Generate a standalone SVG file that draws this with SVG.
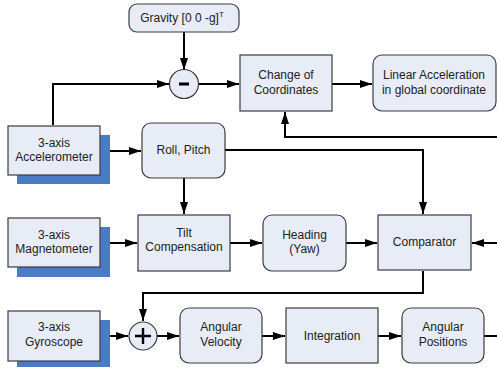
<svg xmlns="http://www.w3.org/2000/svg" width="497" height="368" viewBox="0 0 497 368">
<defs>
<marker id="arr" markerWidth="12" markerHeight="8" refX="12" refY="4" orient="auto" markerUnits="userSpaceOnUse">
<path d="M0,0 L12,4 L0,8 z" fill="#000"/>
</marker>
<style>
.b{fill:#e7ecf7;stroke:#3c3c3c;stroke-width:1.2}
.s{fill:#4a7bc4}
.t{font-family:"Liberation Sans",Arial,sans-serif;font-size:12px;fill:#222;text-anchor:middle}
.c{fill:none;stroke:#000;stroke-width:2}
</style>
</defs>
<rect width="497" height="368" fill="#fff"/>
<g id="connectors">
<path class="c" d="M184,32 V70" marker-end="url(#arr)"/>
<path class="c" d="M53,125 V84 H169" marker-end="url(#arr)"/>
<path class="c" d="M199,84 H239" marker-end="url(#arr)"/>
<path class="c" d="M332,84 H372" marker-end="url(#arr)"/>
<path class="c" d="M497,137 H285 V112" marker-end="url(#arr)"/>
<path class="c" d="M100,151 H141" marker-end="url(#arr)"/>
<path class="c" d="M225,150 H423 V214" marker-end="url(#arr)"/>
<path class="c" d="M184,178 V214" marker-end="url(#arr)"/>
<path class="c" d="M100,243 H137" marker-end="url(#arr)"/>
<path class="c" d="M230,243 H262" marker-end="url(#arr)"/>
<path class="c" d="M346,243 H377" marker-end="url(#arr)"/>
<path class="c" d="M497,243 H472" marker-end="url(#arr)"/>
<path class="c" d="M423,271 V293 H143 V321" marker-end="url(#arr)"/>
<path class="c" d="M100,336 H128" marker-end="url(#arr)"/>
<path class="c" d="M157,336 H179" marker-end="url(#arr)"/>
<path class="c" d="M262,336 H285" marker-end="url(#arr)"/>
<path class="c" d="M378,336 H401" marker-end="url(#arr)"/>
<path class="c" d="M484,336 H497"/>
</g>
<g id="gravity">
<rect class="b" x="129" y="4" width="110" height="28" rx="8"/>
<text class="t" x="182" y="22">Gravity [0 0 -g]<tspan font-size="8" dy="-5">T</tspan></text>
</g>
<g id="minus">
<circle class="b" cx="184" cy="84" r="14.5"/>
<rect x="179" y="82.5" width="10" height="3" fill="#000"/>
</g>
<g id="change">
<rect class="b" x="240" y="55" width="92" height="56"/>
<text class="t" x="286" y="79">Change of</text>
<text class="t" x="286" y="94">Coordinates</text>
</g>
<g id="linear">
<rect class="b" x="373" y="55" width="123" height="56" rx="9"/>
<text class="t" x="434" y="79">Linear Acceleration</text>
<text class="t" x="434" y="94">in global coordinate</text>
</g>
<g id="accelerometer">
<rect class="s" x="17" y="135" width="93" height="49"/>
<rect class="b" x="8" y="126" width="92" height="49"/>
<text class="t" x="54" y="147">3-axis</text>
<text class="t" x="54" y="161">Accelerometer</text>
</g>
<g id="rollpitch">
<rect class="b" x="142" y="123" width="83" height="55" rx="9"/>
<text class="t" x="183.5" y="154">Roll, Pitch</text>
</g>
<g id="magnetometer">
<rect class="s" x="17" y="227" width="93" height="50"/>
<rect class="b" x="8" y="218" width="92" height="49"/>
<text class="t" x="54" y="239">3-axis</text>
<text class="t" x="54" y="253">Magnetometer</text>
</g>
<g id="tilt">
<rect class="b" x="138" y="215" width="92" height="56"/>
<text class="t" x="184" y="237">Tilt</text>
<text class="t" x="184" y="251">Compensation</text>
</g>
<g id="heading">
<rect class="b" x="263" y="215" width="83" height="56" rx="9"/>
<text class="t" x="304.5" y="239">Heading</text>
<text class="t" x="304.5" y="253">(Yaw)</text>
</g>
<g id="comparator">
<rect class="b" x="378" y="215" width="93" height="55"/>
<text class="t" x="424.5" y="246">Comparator</text>
</g>
<g id="gyroscope">
<rect class="s" x="17" y="320" width="93" height="47"/>
<rect class="b" x="8" y="311" width="92" height="50"/>
<text class="t" x="54" y="331">3-axis</text>
<text class="t" x="54" y="346">Gyroscope</text>
</g>
<g id="plus">
<circle class="b" cx="143" cy="336" r="14"/>
<path d="M135,336 H151 M143,328 V344" stroke="#000" stroke-width="2.4" fill="none"/>
</g>
<g id="angvel">
<rect class="b" x="180" y="308" width="82" height="55" rx="9"/>
<text class="t" x="221" y="331">Angular</text>
<text class="t" x="221" y="346">Velocity</text>
</g>
<g id="integration">
<rect class="b" x="286" y="308" width="92" height="55"/>
<text class="t" x="332" y="340">Integration</text>
</g>
<g id="angpos">
<rect class="b" x="402" y="308" width="82" height="55" rx="9"/>
<text class="t" x="443" y="331">Angular</text>
<text class="t" x="443" y="346">Positions</text>
</g>
</svg>
